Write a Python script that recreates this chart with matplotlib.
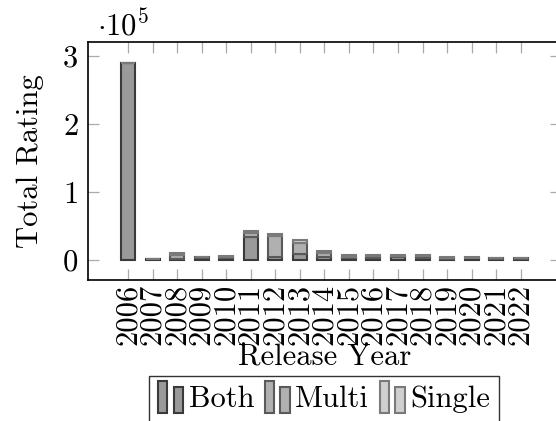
import numpy as np
import matplotlib
matplotlib.use('Agg')
import matplotlib.pyplot as plt
from matplotlib.patches import Rectangle
from matplotlib.legend_handler import HandlerBase

plt.rcParams['font.family'] = 'serif'
plt.rcParams['font.serif'] = ['cmr10']
plt.rcParams['mathtext.fontset'] = 'cm'
plt.rcParams['axes.formatter.use_mathtext'] = True

years = list(range(2006, 2023))
both = [290000, 1000, 2000, 3000, 3000, 34000, 5000, 9000, 5000, 3000, 3000, 4000, 2500, 2000, 2500, 2000, 2000]
multi = [0, 500, 5000, 1000, 2000, 5000, 30000, 16000, 5000, 2000, 3000, 2000, 3000, 1000, 1000, 1000, 1000]
single = [0, 500, 3000, 1000, 1000, 4000, 3000, 4000, 3000, 2000, 2000, 1000, 2000, 1000, 1000, 500, 500]
series = ['Both', 'Multi', 'Single']

styles = {
    'Both':   dict(facecolor='#9a9a9a', edgecolor='#3a3a3a'),
    'Multi':  dict(facecolor='#b0b0b0', edgecolor='#5a5a5a'),
    'Single': dict(facecolor='#cfcfcf', edgecolor='#7a7a7a'),
}
FS = 22


class TwoBarHandler(HandlerBase):
    # pgfplots style ybar legend image: two small bars
    def create_artists(self, legend, orig_handle, xdescent, ydescent,
                       width, height, fontsize, trans):
        fc = orig_handle.get_facecolor()
        ec = orig_handle.get_edgecolor()
        h = height * 1.5
        y0 = -ydescent - 0.3 * height
        bw = width * 0.36
        r1 = Rectangle((-xdescent, y0), bw, h, facecolor=fc, edgecolor=ec,
                       linewidth=1.5, transform=trans)
        r2 = Rectangle((-xdescent + width * 0.6, y0), bw, h * 0.8, facecolor=fc,
                       edgecolor=ec, linewidth=1.5, transform=trans)
        return [r1, r2]


fig = plt.figure(figsize=(5.56, 4.21), dpi=100)
ax = fig.add_axes([88 / 556, 141 / 421, 473 / 556, 238 / 421])

x = np.array(years)
vals = {'Both': np.array(both) / 1e5, 'Multi': np.array(multi) / 1e5, 'Single': np.array(single) / 1e5}
bottom = np.zeros(len(years))
handles = []
for name in series:
    b = ax.bar(x, vals[name], width=0.57, bottom=bottom, linewidth=1.5,
               label=name, **styles[name])
    handles.append(b.patches[0])
    bottom = bottom + vals[name]

ax.set_xlim(2006 - 1.63, 2022 + 1.64)
ax.set_ylim(-0.294, 3.206)
ax.set_xticks(years)
ax.set_xticklabels([str(y) for y in years], rotation=90)
ax.set_yticks([0, 1, 2, 3])
ax.tick_params(direction='in', length=8, width=0.9, color='#aaaaaa',
               top=True, right=True, labelsize=FS)
ax.tick_params(axis='y', pad=7)
ax.tick_params(axis='x', pad=3)
for s in ax.spines.values():
    s.set_linewidth(1.2)

ax.set_xlabel('Release Year', fontsize=FS, labelpad=-2)
ax.set_ylabel('Total Rating', fontsize=FS, labelpad=13)
fig.text(97 / 556, 1 - 25 / 421, r'$\cdot 10^5$', fontsize=FS, va='center', ha='left')

leg = fig.legend(handles, series, loc='upper center', bbox_to_anchor=(0.583, 0.107),
                 ncol=3, fontsize=FS, frameon=True, fancybox=False,
                 edgecolor='black', handlelength=0.85, handletextpad=0.15,
                 columnspacing=0.35, borderpad=0.3, borderaxespad=0,
                 handler_map={h: TwoBarHandler() for h in handles})
leg.get_frame().set_linewidth(1.0)

fig.savefig('out.png', dpi=100)
